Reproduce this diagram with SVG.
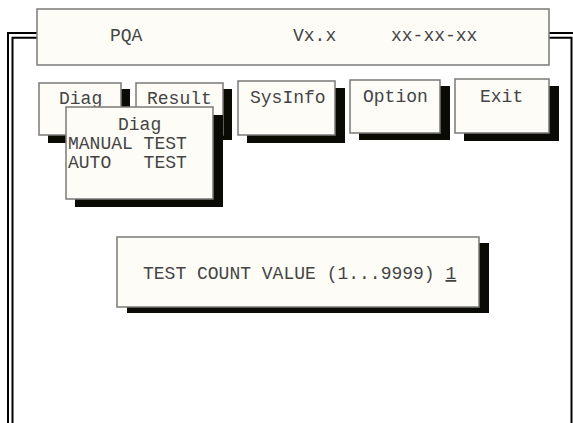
<svg xmlns="http://www.w3.org/2000/svg" width="573" height="423" viewBox="0 0 573 423">
<style>
.box{fill:#fdfcf7;stroke:#7a7a78;stroke-width:1.5}
.sh{fill:#0b0b06}
.fr{fill:none;stroke:#000;stroke-width:2}
text{font-family:"Liberation Mono","Courier New",monospace;font-size:18px;fill:#444444;white-space:pre}
</style>
<rect width="573" height="423" fill="#ffffff"/>
<g id="connectors">
<path class="fr" d="M40 33 H8 V423"/>
<path class="fr" d="M40 37.8 H12.5 V423"/>
<path class="fr" d="M545 33 H575"/>
<path class="fr" d="M545 37.8 H571.5 V423"/>
</g>
<g id="header">
<rect class="box" x="37" y="9" width="512" height="56"/>
<text x="110" y="41">PQA</text>
<text x="293" y="41">Vx.x</text>
<text x="391" y="41">xx-xx-xx</text>
</g>
<g id="btn-diag">
<rect class="sh" x="48" y="89" width="82" height="54"/>
<rect class="box" x="39" y="83" width="82" height="52"/>
<text x="59" y="104">Diag</text>
</g>
<g id="btn-result">
<rect class="sh" x="145" y="89" width="87" height="51"/>
<rect class="box" x="136" y="83" width="87" height="52"/>
<text x="147" y="104">Result</text>
</g>
<g id="btn-sysinfo">
<rect class="sh" x="247" y="88" width="98" height="55"/>
<rect class="box" x="238" y="81" width="97" height="54"/>
<text x="250" y="103">SysInfo</text>
</g>
<g id="btn-option">
<rect class="sh" x="359" y="86" width="91" height="54"/>
<rect class="box" x="350" y="80" width="90" height="53"/>
<text x="363" y="102">Option</text>
</g>
<g id="btn-exit">
<rect class="sh" x="464" y="86" width="95" height="55"/>
<rect class="box" x="455" y="79" width="94" height="54"/>
<text x="480" y="102">Exit</text>
</g>
<g id="diag-menu">
<rect class="sh" x="75" y="115" width="148" height="92"/>
<rect class="box" x="66" y="107" width="147" height="92"/>
<text x="118" y="130">Diag</text>
<text x="68" y="149">MANUAL TEST</text>
<text x="68" y="168" xml:space="preserve">AUTO   TEST</text>
</g>
<g id="test-count">
<rect class="sh" x="127" y="243" width="362" height="70"/>
<rect class="box" x="117" y="237" width="362" height="70"/>
<text x="143" y="279">TEST COUNT VALUE (1...9999) <tspan text-decoration="underline">1</tspan></text>
</g>
</svg>
